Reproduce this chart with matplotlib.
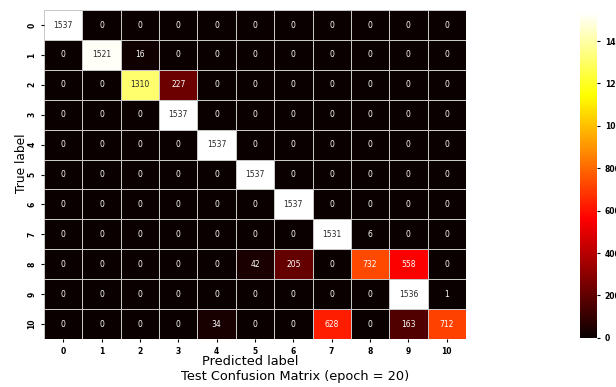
import numpy as np
import matplotlib
matplotlib.use('Agg')
import matplotlib.pyplot as plt
import seaborn as sns

labels = [str(i) for i in range(11)]

# rows = true label, columns = predicted label
row0 = [1537, 0, 0, 0, 0, 0, 0, 0, 0, 0, 0]
row1 = [0, 1521, 16, 0, 0, 0, 0, 0, 0, 0, 0]
row2 = [0, 0, 1310, 227, 0, 0, 0, 0, 0, 0, 0]
row3 = [0, 0, 0, 1537, 0, 0, 0, 0, 0, 0, 0]
row4 = [0, 0, 0, 0, 1537, 0, 0, 0, 0, 0, 0]
row5 = [0, 0, 0, 0, 0, 1537, 0, 0, 0, 0, 0]
row6 = [0, 0, 0, 0, 0, 0, 1537, 0, 0, 0, 0]
row7 = [0, 0, 0, 0, 0, 0, 0, 1531, 6, 0, 0]
row8 = [0, 0, 0, 0, 0, 42, 205, 0, 732, 558, 0]
row9 = [0, 0, 0, 0, 0, 0, 0, 0, 0, 1536, 1]
row10 = [0, 0, 0, 0, 34, 0, 0, 628, 0, 163, 712]

cm = np.array([row0, row1, row2, row3, row4, row5, row6,
               row7, row8, row9, row10])

fig = plt.figure(figsize=(6.16, 3.87), dpi=100)
ax = fig.add_axes([0.0714, 0.124, 0.685, 0.850])
cax = fig.add_axes([0.9416, 0.127, 0.0276, 0.842])

sns.heatmap(cm, annot=True, fmt='d', cmap='hot', linewidths=0.7,
            linecolor='#c8c8c8', ax=ax, cbar_ax=cax,
            xticklabels=labels, yticklabels=labels,
            annot_kws={'fontsize': 5.5})

ax.tick_params(axis='both', labelsize=5.5, length=2)
plt.setp(ax.get_yticklabels(), rotation=90, va='center', fontweight='bold')
plt.setp(ax.get_xticklabels(), rotation=0, fontweight='bold')
ax.set_xlabel('Predicted label', fontsize=9.3)
ax.xaxis.set_label_coords(0.488, -0.048)
ax.set_ylabel('True label', fontsize=8.8)
ax.yaxis.set_label_coords(-0.038, 0.535)

cax.tick_params(labelsize=5.5, length=2)
cax.set_yticks([0, 200, 400, 600, 800, 1000, 1200, 1400])
plt.setp(cax.get_yticklabels(), fontweight='bold')

fig.text(0.479, 0.026, 'Test Confusion Matrix (epoch = 20)', fontsize=9.3,
         ha='center', va='center')

fig.savefig('out.png', dpi=100)
